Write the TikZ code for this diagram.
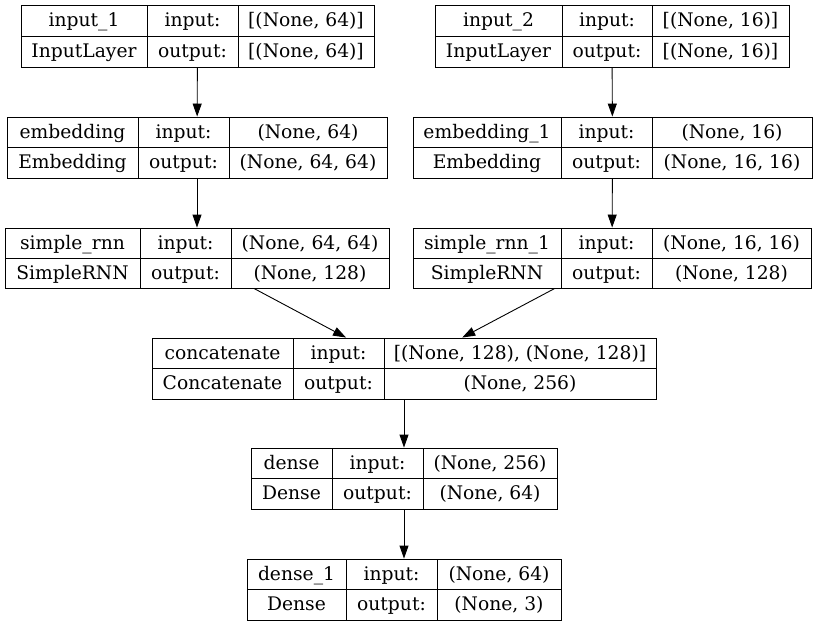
\documentclass[tikz,border=0pt]{standalone}
\usepackage{fontspec}
\setmainfont{DejaVu Serif}
\usetikzlibrary{arrows.meta}

\tikzset{
  layerbox/.style={draw, rectangle, inner sep=0pt, line width=0.9pt},
  cell/.style={anchor=base, inner sep=0pt, font=\fontsize{18.7}{21}\selectfont},
  flow/.style={-{Triangle[length=13pt,width=9pt]}, line width=0.9pt}
}

\begin{document}
\begin{tikzpicture}[x=1pt, y=-1pt]
\useasboundingbox (0,0) rectangle (817,627);
% one record per layer: box, dividers, texts
\foreach \id/\xa/\xb/\xc/\xd/\yt/\yb/\nm/\cl/\ins/\outs in {
  inA/21/147/238/374/5/67/{input\_1}/{InputLayer}/{[(None, 64)]}/{[(None, 64)]},
  inB/435/562/652/789/5/67/{input\_2}/{InputLayer}/{[(None, 16)]}/{[(None, 16)]},
  embA/7/138/229/387/117/178/{embedding}/{Embedding}/{(None, 64)}/{(None, 64, 64)},
  embB/413/561/652/812/117/178/{embedding\_1}/{Embedding}/{(None, 16)}/{(None, 16, 16)},
  rnnA/5/140/231/389/228/288/{simple\_rnn}/{SimpleRNN}/{(None, 64, 64)}/{(None, 128)},
  rnnB/413/561/652/811/228/288/{simple\_rnn\_1}/{SimpleRNN}/{(None, 16, 16)}/{(None, 128)},
  concat/152/293/384/656/338/399/{concatenate}/{Concatenate}/{[(None, 128), (None, 128)]}/{(None, 256)},
  denseA/251/332/423/557/448/509/{dense}/{Dense}/{(None, 256)}/{(None, 64)},
  denseB/247/346/437/561/559/620/{dense\_1}/{Dense}/{(None, 64)}/{(None, 3)}
}{
  \pgfmathsetmacro\ym{(\yt+\yb)/2}
  \pgfmathsetmacro\ra{(\yt+\ym)/2+6}
  \pgfmathsetmacro\rb{(\ym+\yb)/2+6}
  \node[layerbox, minimum width={\xd-\xa}, minimum height={\yb-\yt}] (\id) at ({(\xa+\xd)/2},\ym) {};
  \draw[line width=0.9pt] (\xb,\yt) -- (\xb,\yb);
  \draw[line width=0.9pt] (\xc,\yt) -- (\xc,\yb);
  \draw[line width=0.9pt] (\xa,\ym) -- (\xd,\ym);
  \node[cell] (\id-nm) at ({(\xa+\xb)/2},\ra) {\nm};
  \node[cell] (\id-cl) at ({(\xa+\xb)/2},\rb) {\cl};
  \node[cell] (\id-il) at ({(\xb+\xc)/2},\ra) {input:};
  \node[cell] (\id-ol) at ({(\xb+\xc)/2},\rb) {output:};
  \node[cell] (\id-in) at ({(\xc+\xd)/2},\ra) {\ins};
  \node[cell] (\id-out) at ({(\xc+\xd)/2},\rb) {\outs};
}
% edges
\draw[flow] (inA) -- (embA);
\draw[flow] (inB) -- (embB);
\draw[flow] (embA) -- (rnnA);
\draw[flow] (embB) -- (rnnB);
\draw[flow] (rnnA) -- (concat);
\draw[flow] (rnnB) -- (concat);
\draw[flow] (concat) -- (denseA);
\draw[flow] (denseA) -- (denseB);
\end{tikzpicture}
\end{document}
